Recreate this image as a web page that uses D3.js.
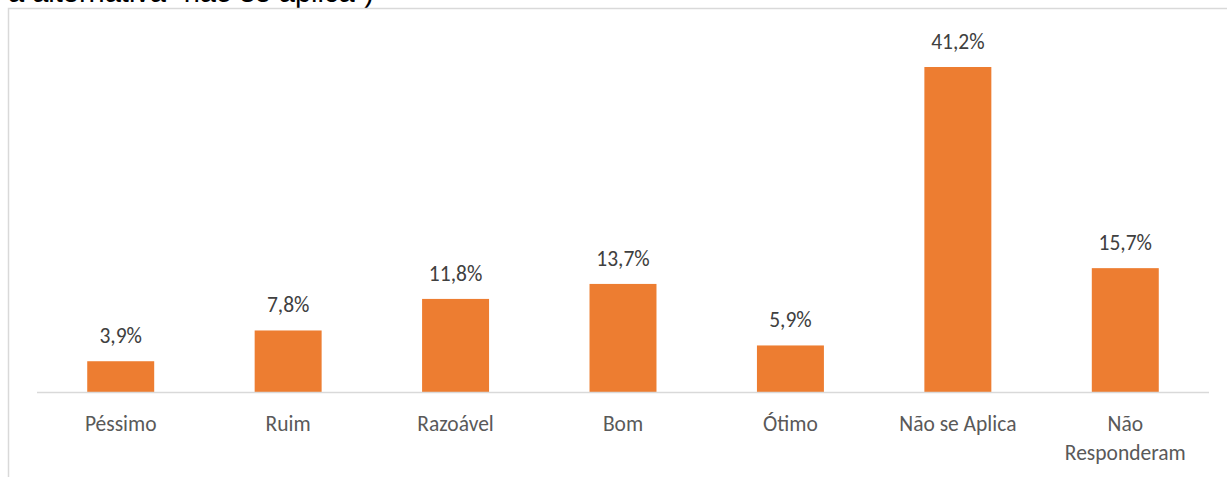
<!DOCTYPE html>
<html>
<head>
<meta charset="utf-8">
<script src="https://cdn.jsdelivr.net/npm/d3@7/dist/d3.min.js"></script>
<style>
  html, body { margin: 0; padding: 0; background: #fff; }
  svg { display: block; }
</style>
</head>
<body>
<svg id="chart" width="1227" height="477"></svg>
<script>
// Categories and percentage values
const categories = ["Péssimo", "Ruim", "Razoável", "Bom", "Ótimo", "Não se Aplica", "Não Responderam"];
const values = [3.9, 7.8, 11.8, 13.7, 5.9, 41.2, 15.7];
const valueLabels = ["3,9%", "7,8%", "11,8%", "13,7%", "5,9%", "41,2%", "15,7%"];
const headingText = "a alternativa \u201cnão se aplica\u201d)";

const svg = d3.select("#chart");
const W = 1227, H = 477;
const labelFont = "Calibri, Carlito, 'Open Sans', 'Noto Sans', sans-serif";
const labelSize = 21.5;

// Caption text from the preceding paragraph, partly above the frame
svg.append("text")
  .attr("x", 8).attr("y", 2)
  .attr("font-family", "'Liberation Sans', Arial, sans-serif")
  .attr("font-size", 29)
  .attr("fill", "#000")
  .text(headingText);

// Chart frame (top and left edges visible)
svg.append("path")
  .attr("d", `M8.5,${H} V8.5 H${W}`)
  .attr("fill", "none")
  .attr("stroke", "#d9d9d9")
  .attr("stroke-width", 1.5);

const plot = { left: 37, right: 1209, bottom: 392, top: 67 };

const x = d3.scaleBand()
  .domain(categories)
  .range([plot.left, plot.right])
  .paddingInner(0.6)
  .paddingOuter(0.3);

const y = d3.scaleLinear()
  .domain([0, 41.2])
  .range([plot.bottom, plot.top]);

// Bars
svg.append("g").selectAll("rect")
  .data(categories)
  .join("rect")
  .attr("x", d => x(d))
  .attr("width", x.bandwidth())
  .attr("y", (d, i) => y(values[i]))
  .attr("height", (d, i) => y(0) - y(values[i]))
  .attr("fill", "#ED7D31");

// Category axis
const axis = svg.append("g")
  .attr("transform", `translate(0,${plot.bottom})`)
  .call(d3.axisBottom(x).tickSize(0).tickPadding(0));
axis.select(".domain")
  .attr("d", `M${plot.left},0.5H${plot.right}`)
  .attr("stroke", "#d9d9d9")
  .attr("stroke-width", 1.5);
axis.selectAll(".tick text")
  .attr("font-family", labelFont)
  .attr("font-size", labelSize)
  .attr("fill", "#595959")
  .attr("dy", null)
  .attr("y", 39)
  .each(function () { wrap(d3.select(this), x.step() * 0.85); });

function wrap(text, width) {
  const words = text.text().split(/\s+/);
  text.text(null);
  let line = [];
  let tspan = text.append("tspan").attr("x", 0).attr("y", 39);
  let lineNo = 0;
  words.forEach(w => {
    line.push(w);
    tspan.text(line.join(" "));
    if (tspan.node().getComputedTextLength() > width && line.length > 1) {
      line.pop();
      tspan.text(line.join(" "));
      line = [w];
      lineNo++;
      tspan = text.append("tspan").attr("x", 0).attr("y", 39 + lineNo * 29).text(w);
    }
  });
}

// Value labels
svg.append("g").selectAll("text")
  .data(categories)
  .join("text")
  .attr("x", d => x(d) + x.bandwidth() / 2)
  .attr("y", (d, i) => y(values[i]) - 18)
  .attr("text-anchor", "middle")
  .attr("font-family", labelFont)
  .attr("font-size", labelSize)
  .attr("fill", "#404040")
  .text((d, i) => valueLabels[i]);
</script>
</body>
</html>
